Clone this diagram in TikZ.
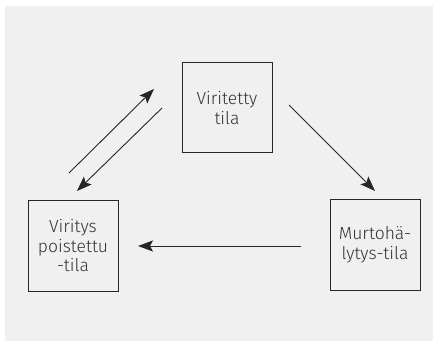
\documentclass[tikz,border=0pt]{standalone}
\usepackage{fontspec}
\setmainfont{Fira Sans}[UprightFont=* Light]
\usepackage{xcolor}
\usetikzlibrary{arrows.meta}
\definecolor{bggray}{HTML}{F0F0F0}
\definecolor{txtgray}{HTML}{333333}
\tikzset{
  tilabox/.style={draw=black!85,line width=1pt,minimum width=90pt,minimum height=90pt,
    align=center,text=txtgray,font=\fontsize{17.5}{19.5}\selectfont,inner sep=0pt},
  siirto/.style={line width=0.9pt,draw=black!85,-{Stealth[length=15pt,width=11pt,inset=3pt]}}
}
\begin{document}
\begin{tikzpicture}[x=1pt,y=-1pt]
\useasboundingbox (0,0) rectangle (434,342);
\fill[bggray](5,6)rectangle(433,341);
\node[tilabox](viritetty) at (227,108) {Viritetty\\tila};
\node[tilabox](poistettu) at (73,246) {Viritys\\poistettu\\-tila};
\node[tilabox](halytys) at (375,245) {Murtohä-\\lytys-tila};
\coordinate (ylosA) at (69,173);
\coordinate (ylosB) at (154,89);
\coordinate (alasA) at (162,108);
\coordinate (alasB) at (77,191);
\coordinate (oikeaA) at (289,105);
\coordinate (oikeaB) at (375,191);
\coordinate (vaakaA) at (301,246);
\coordinate (vaakaB) at (138,246);
\draw[siirto](ylosA)--(ylosB);
\draw[siirto](alasA)--(alasB);
\draw[siirto](oikeaA)--(oikeaB);
\draw[siirto](vaakaA)--(vaakaB);
\end{tikzpicture}
\end{document}
